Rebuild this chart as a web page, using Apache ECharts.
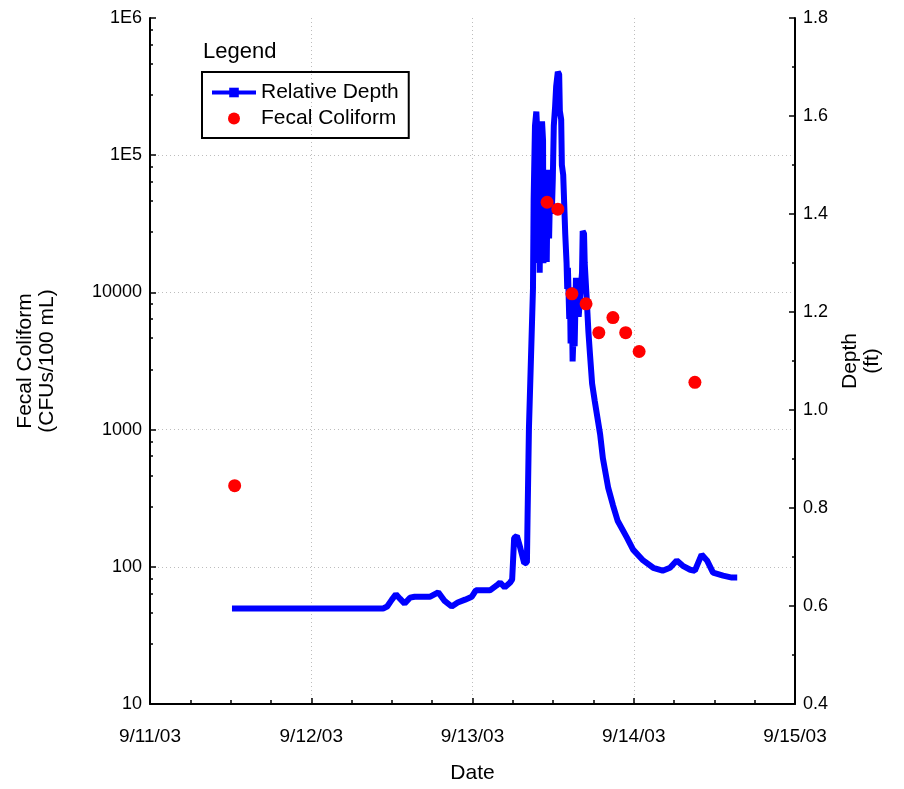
<!DOCTYPE html>
<html>
<head>
<meta charset="utf-8">
<script src="https://cdn.jsdelivr.net/npm/echarts@6/dist/echarts.min.js"></script>
<style>html,body{margin:0;padding:0;background:#fff;}#chart{width:904px;height:789px;}</style>
</head>
<body>
<div id="chart"></div>
<script>
// Hours since 9/11/03 00:00
const xTickLabels = ['9/11/03', '9/12/03', '9/13/03', '9/14/03', '9/15/03'];
const logMinorFactors = [2.75, 4.64, 6.4, 8.2];
const depthHours = [12.2, 34.7, 35.3, 36.0, 36.6, 37.2, 37.9, 38.7, 39.4, 41.7, 42.9, 43.8, 44.9, 45.8, 46.9, 47.9, 48.5, 50.6, 51.6, 52.1, 52.8, 53.6, 53.9, 54.2, 54.6, 55.1, 55.7, 56.1, 56.2, 56.4, 56.7,
  57.0, 57.1, 57.3, 57.5, 57.6, 57.7, 57.9, 58.0, 58.2, 58.35, 58.5, 58.55, 58.8, 58.9, 59.05, 59.2, 59.4, 59.6, 59.8, 59.95, 60.1, 60.3, 60.45, 60.7, 60.9, 61.0, 61.2, 61.3, 61.5, 61.8, 62.0, 62.1,
  62.2, 62.4, 62.5, 62.6, 62.8, 62.9, 63.1, 63.2, 63.4, 63.5, 63.7, 63.8, 64.1, 64.3, 64.4, 64.6, 64.7, 64.9, 65.0, 65.25, 65.5, 65.8, 66.2, 67.0,
  67.4, 68.2, 68.9, 69.6, 71.0, 71.9, 73.4, 74.9, 76.3, 77.4, 78.4, 79.3, 80.4, 81.1, 82.1, 82.9, 83.8, 85.3, 86.6, 87.4];
const depthValues = [0.595, 0.595, 0.599, 0.613, 0.624, 0.615, 0.605, 0.617, 0.619, 0.619, 0.628, 0.611, 0.599, 0.607, 0.613, 0.619, 0.632, 0.632, 0.642, 0.648, 0.638, 0.648, 0.654, 0.739, 0.743, 0.719, 0.687, 0.689, 0.786, 0.963, 1.105,
  1.247, 1.430, 1.580, 1.609, 1.580, 1.300, 1.550, 1.280, 1.570, 1.589, 1.550, 1.300, 1.330, 1.490, 1.302, 1.490, 1.350, 1.490, 1.400, 1.470, 1.580, 1.620, 1.660, 1.690, 1.685, 1.610, 1.593, 1.500, 1.480, 1.360, 1.300, 1.247,
  1.290, 1.186, 1.250, 1.136, 1.200, 1.099, 1.180, 1.130, 1.270, 1.200, 1.260, 1.190, 1.247, 1.280, 1.365, 1.360, 1.300, 1.250, 1.227, 1.160, 1.111, 1.054, 1.018, 0.950,
  0.902, 0.841, 0.806, 0.774, 0.739, 0.715, 0.693, 0.678, 0.672, 0.678, 0.693, 0.682, 0.674, 0.672, 0.705, 0.693, 0.668, 0.662, 0.658, 0.658];
const fecalHours = [12.6, 59.1, 60.7, 62.8, 64.9, 66.8, 68.9, 70.8, 72.8, 81.1];
const fecalValues = [390, 45400, 40400, 9770, 8260, 5090, 6550, 5090, 3710, 2210];

const FONT = "'Liberation Sans', Arial, sans-serif";
const chart = echarts.init(document.getElementById('chart'), null, {renderer: 'canvas'});

const minorLogValues = [];
[10, 100, 1000, 10000, 100000].forEach(function (d) {
  logMinorFactors.forEach(function (f) { minorLogValues.push(d * f); });
});

const axisCommon = {
  axisLine: {show: true, onZero: false, lineStyle: {color: '#000', width: 2}},
  axisTick: {show: true, inside: true, length: 6, lineStyle: {color: '#000', width: 1.5}},
  minorTick: {show: true, length: 3, lineStyle: {color: '#000', width: 1.5}},
  axisLabel: {color: '#000', fontFamily: FONT, fontSize: 18},
  nameTextStyle: {color: '#000', fontFamily: FONT, fontSize: 21, lineHeight: 22}
};
const gridLine = {show: true, showMaxLine: false, lineStyle: {color: '#bdbdbd', type: [1, 3], width: 1}};

chart.setOption({
  animation: false,
  backgroundColor: '#fff',
  title: {
    text: 'Legend', left: 198, top: 36,
    textStyle: {color: '#000', fontFamily: FONT, fontSize: 22, fontWeight: 'normal'}
  },
  legend: {
    orient: 'vertical', left: 202, top: 72,
    borderColor: '#000', borderWidth: 2, borderRadius: 0,
    padding: [10, 10, 9, 8], itemGap: 5, itemWidth: 44, itemHeight: 12,
    textStyle: {color: '#000', fontFamily: FONT, fontSize: 21},
    data: [
      {name: 'Relative Depth', lineStyle: {width: 4}},
      {name: 'Fecal Coliform'}
    ]
  },
  grid: {left: 150, right: 109, top: 18, bottom: 82, containLabel: false},
  xAxis: Object.assign({}, axisCommon, {
    type: 'value', min: 0, max: 96, interval: 24,
    name: 'Date', nameLocation: 'middle', nameGap: 58,
    axisLabel: Object.assign({}, axisCommon.axisLabel, {
      fontSize: 19, margin: 23,
      formatter: function (v) { return xTickLabels[Math.round(v / 24)]; }
    }),
    minorTick: Object.assign({}, axisCommon.minorTick, {splitNumber: 4, length: 4}),
    splitLine: gridLine
  }),
  yAxis: [
    Object.assign({}, axisCommon, {
      type: 'log', logBase: 10, min: 10, max: 1000000, position: 'left',
      name: 'Fecal Coliform\n(CFUs/100 mL)', nameLocation: 'middle', nameGap: 92,
      axisLabel: Object.assign({}, axisCommon.axisLabel, {
        margin: 8,
        formatter: function (v) {
          if (v >= 100000) return '1E' + Math.round(Math.log10(v));
          return String(Math.round(v));
        }
      }),
      minorTick: {show: false},
      splitLine: gridLine
    }),
    Object.assign({}, axisCommon, {
      type: 'value', min: 0.4, max: 1.8, interval: 0.2, position: 'right',
      name: 'Depth\n(ft)', nameLocation: 'middle', nameGap: 37,
      axisLabel: Object.assign({}, axisCommon.axisLabel, {
        margin: 8,
        formatter: function (v) { return v.toFixed(1); }
      }),
      minorTick: Object.assign({}, axisCommon.minorTick, {splitNumber: 2}),
      splitLine: {show: false}
    }),
    {
      type: 'log', logBase: 10, min: 10, max: 1000000, position: 'left', offset: 0,
      axisLine: {show: false}, axisLabel: {show: false}, splitLine: {show: false},
      axisTick: {show: true, inside: true, length: 3, customValues: minorLogValues,
        lineStyle: {color: '#000', width: 1.5}}
    }
  ],
  series: [
    {
      name: 'Relative Depth', type: 'line', yAxisIndex: 1,
      data: depthHours.map(function (h, i) { return [h, depthValues[i]]; }),
      showSymbol: false, symbol: 'path://M0,0 L3,0 L3,10 L0,10 Z', symbolKeepAspect: true, symbolSize: 4,
      lineStyle: {color: '#0000ff', width: 6},
      itemStyle: {color: '#0000ff'},
      z: 2
    },
    {
      name: 'Fecal Coliform', type: 'scatter', yAxisIndex: 0,
      data: fecalHours.map(function (h, i) { return [h, fecalValues[i]]; }),
      symbol: 'circle', symbolSize: 13,
      itemStyle: {color: '#ff0000', opacity: 1},
      z: 3
    }
  ]
});
</script>
</body>
</html>
